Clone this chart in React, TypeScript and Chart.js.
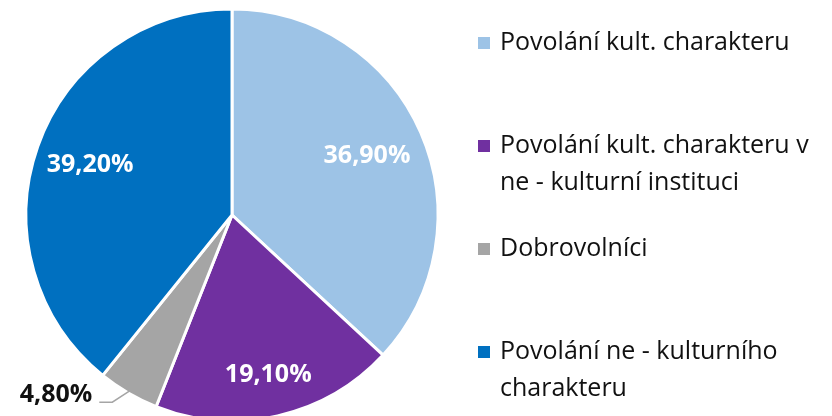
import React, { useEffect, useRef } from "react";
import { Chart, registerables } from "chart.js";

Chart.register(...registerables);

const categories: string[][] = [
  ["Povolání kult. charakteru"],
  ["Povolání kult. charakteru v", "ne - kulturní instituci"],
  ["Dobrovolníci"],
  ["Povolání ne - kulturního", "charakteru"],
];
const values: number[] = [36.9, 19.1, 4.8, 39.2];
const valueLabels: string[] = ["36,90%", "19,10%", "4,80%", "39,20%"];
const colors: string[] = ["#9DC3E6", "#7030A0", "#A5A5A5", "#0070C0"];

const FONT = "'Open Sans', 'Noto Sans', sans-serif";

const labelPlugin = {
  id: "sliceLabels",
  afterDatasetsDraw(chart: any) {
    const ctx = chart.ctx;
    const meta = chart.getDatasetMeta(0);
    const frac = [0.715, 0.796, 0, 0.73];
    ctx.save();
    ctx.font = `bold 25px ${FONT}`;
    ctx.textBaseline = "middle";
    meta.data.forEach((arc: any, i: number) => {
      const { x, y, startAngle, endAngle, outerRadius } = arc.getProps(
        ["x", "y", "startAngle", "endAngle", "outerRadius"],
        true
      );
      const mid = (startAngle + endAngle) / 2;
      if (i === 2) {
        const ex = x + Math.cos(mid) * outerRadius * 0.99;
        const ey = y + Math.sin(mid) * outerRadius * 0.99;
        const kx = ex - 17;
        const ky = ey + 11;
        const hx = kx - 13;
        ctx.strokeStyle = "#A5A5A5";
        ctx.lineWidth = 1.5;
        ctx.beginPath();
        ctx.moveTo(ex, ey);
        ctx.lineTo(kx, ky);
        ctx.lineTo(hx, ky);
        ctx.stroke();
        ctx.fillStyle = "#111111";
        ctx.textAlign = "right";
        ctx.fillText(valueLabels[i], hx - 7, ky - 7);
      } else {
        const r = outerRadius * frac[i];
        ctx.fillStyle = "#FFFFFF";
        ctx.textAlign = "center";
        ctx.fillText(valueLabels[i], x + Math.cos(mid) * r, y + Math.sin(mid) * r);
      }
    });
    ctx.restore();
  },
};

const legendPlugin = {
  id: "customLegend",
  afterDraw(chart: any) {
    const ctx = chart.ctx;
    const firstY = 43;
    const step = 103;
    const lineH = 37;
    ctx.save();
    ctx.font = `25px ${FONT}`;
    ctx.textBaseline = "middle";
    ctx.textAlign = "left";
    categories.forEach((lines, i) => {
      const cy = firstY + step * i;
      ctx.fillStyle = colors[i];
      ctx.fillRect(478, cy - 6, 12, 12);
      ctx.fillStyle = "#111111";
      lines.forEach((t, j) => ctx.fillText(t, 500, cy + j * lineH));
    });
    ctx.restore();
  },
};

export default function App() {
  const ref = useRef<HTMLCanvasElement>(null);
  useEffect(() => {
    document.body.style.margin = "0";
    const chart = new Chart(ref.current!, {
      type: "pie",
      data: {
        labels: categories.map((l) => l.join(" ")),
        datasets: [
          {
            data: values,
            backgroundColor: colors,
            borderColor: "#FFFFFF",
            borderWidth: 3,
          },
        ],
      },
      options: {
        responsive: false,
        animation: false,
        radius: 206,
        layout: { padding: { left: 26, right: 394, top: 14, bottom: 0 } },
        plugins: {
          legend: { display: false },
          tooltip: { enabled: false },
        },
      },
      plugins: [labelPlugin, legendPlugin],
    });
    return () => chart.destroy();
  }, []);
  return <canvas ref={ref} width={832} height={416} style={{ display: "block" }} />;
}
